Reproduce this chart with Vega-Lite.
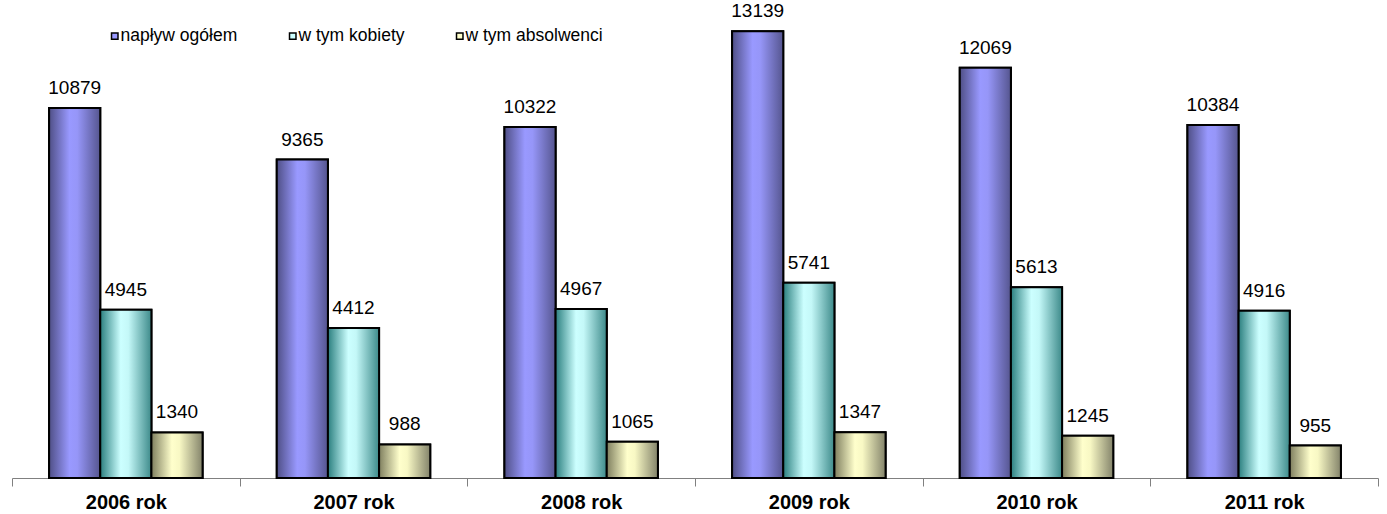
{
  "$schema": "https://vega.github.io/schema/vega-lite/v6.json",
  "width": 1366,
  "height": 476,
  "autosize": {"type": "none"},
  "padding": {"left": 12, "top": 2, "right": 9, "bottom": 36},
  "background": "white",
  "config": {"view": {"stroke": null}, "font": "Liberation Sans"},
  "data": {
    "values": [
      {"rok": "2006 rok", "seria": "napływ ogółem", "wartosc": 10879},
      {"rok": "2006 rok", "seria": "w tym kobiety", "wartosc": 4945},
      {"rok": "2006 rok", "seria": "w tym absolwenci", "wartosc": 1340},
      {"rok": "2007 rok", "seria": "napływ ogółem", "wartosc": 9365},
      {"rok": "2007 rok", "seria": "w tym kobiety", "wartosc": 4412},
      {"rok": "2007 rok", "seria": "w tym absolwenci", "wartosc": 988},
      {"rok": "2008 rok", "seria": "napływ ogółem", "wartosc": 10322},
      {"rok": "2008 rok", "seria": "w tym kobiety", "wartosc": 4967},
      {"rok": "2008 rok", "seria": "w tym absolwenci", "wartosc": 1065},
      {"rok": "2009 rok", "seria": "napływ ogółem", "wartosc": 13139},
      {"rok": "2009 rok", "seria": "w tym kobiety", "wartosc": 5741},
      {"rok": "2009 rok", "seria": "w tym absolwenci", "wartosc": 1347},
      {"rok": "2010 rok", "seria": "napływ ogółem", "wartosc": 12069},
      {"rok": "2010 rok", "seria": "w tym kobiety", "wartosc": 5613},
      {"rok": "2010 rok", "seria": "w tym absolwenci", "wartosc": 1245},
      {"rok": "2011 rok", "seria": "napływ ogółem", "wartosc": 10384},
      {"rok": "2011 rok", "seria": "w tym kobiety", "wartosc": 4916},
      {"rok": "2011 rok", "seria": "w tym absolwenci", "wartosc": 955}
    ]
  },
  "encoding": {
    "x": {
      "field": "rok", "type": "nominal", "sort": null,
      "scale": {"paddingInner": 0, "paddingOuter": 0},
      "axis": {
        "title": null, "labelAngle": 0, "labelFontSize": 20, "labelFontWeight": "bold",
        "labelColor": "black", "labelPadding": 6, "domainColor": "#808080", "domainWidth": 1,
        "tickColor": "#808080", "tickSize": 8, "tickBand": "extent", "grid": false
      }
    },
    "xOffset": {
      "field": "seria", "type": "nominal",
      "sort": ["napływ ogółem", "w tym kobiety", "w tym absolwenci"],
      "scale": {"domain": ["napływ ogółem", "w tym kobiety", "w tym absolwenci"], "paddingInner": 0, "paddingOuter": 0.725}
    },
    "y": {
      "field": "wartosc", "type": "quantitative",
      "scale": {"domain": [0, 14000], "nice": false},
      "axis": null
    }
  },
  "layer": [
    {
      "mark": {"type": "bar", "stroke": "black", "strokeWidth": 2, "fillOpacity": 1},
      "encoding": {
        "fill": {
          "field": "seria", "type": "nominal",
          "scale": {
            "domain": ["napływ ogółem", "w tym kobiety", "w tym absolwenci"],
            "range": ["#9999ff", "#ccffff", "#ffffcc"]
          },
          "legend": {
            "title": null, "orient": "none", "direction": "horizontal",
            "legendX": 94, "legendY": 25, "padding": 0,
            "symbolType": "square", "symbolSize": 42, "symbolStrokeColor": "black",
            "symbolStrokeWidth": 1.5, "labelFontSize": 17.5, "labelColor": "black",
            "labelOffset": -3, "columnPadding": 46, "labelLimit": 300
          }
        }
      }
    },
    {
      "transform": [{"filter": "datum.seria === 'napływ ogółem'"}],
      "mark": {"type": "bar", "stroke": "black", "strokeWidth": 2, "fill": {"gradient": "linear", "x1": 0, "y1": 0, "x2": 1, "y2": 0, "stops": [
        {"offset": 0, "color": "#4f4f86"}, {"offset": 0.4, "color": "#9999ff"}, {"offset": 0.55, "color": "#9696f8"}, {"offset": 1, "color": "#55558f"}]}},
      "encoding": {}
    },
    {
      "transform": [{"filter": "datum.seria === 'w tym kobiety'"}],
      "mark": {"type": "bar", "stroke": "black", "strokeWidth": 2, "fill": {"gradient": "linear", "x1": 0, "y1": 0, "x2": 1, "y2": 0, "stops": [
        {"offset": 0, "color": "#2b7f7f"}, {"offset": 0.4, "color": "#ccffff"}, {"offset": 0.55, "color": "#c4f8f8"}, {"offset": 1, "color": "#3d8a8a"}]}},
      "encoding": {}
    },
    {
      "transform": [{"filter": "datum.seria === 'w tym absolwenci'"}],
      "mark": {"type": "bar", "stroke": "black", "strokeWidth": 2, "fill": {"gradient": "linear", "x1": 0, "y1": 0, "x2": 1, "y2": 0, "stops": [
        {"offset": 0, "color": "#7f7f5f"}, {"offset": 0.4, "color": "#ffffcc"}, {"offset": 0.55, "color": "#f8f8c4"}, {"offset": 1, "color": "#83836a"}]}},
      "encoding": {}
    },
    {
      "mark": {"type": "text", "baseline": "alphabetic", "align": "center", "dy": -14, "fontSize": 19, "color": "black"},
      "encoding": {
        "text": {"field": "wartosc", "type": "quantitative", "format": "d"}
      }
    }
  ]
}
